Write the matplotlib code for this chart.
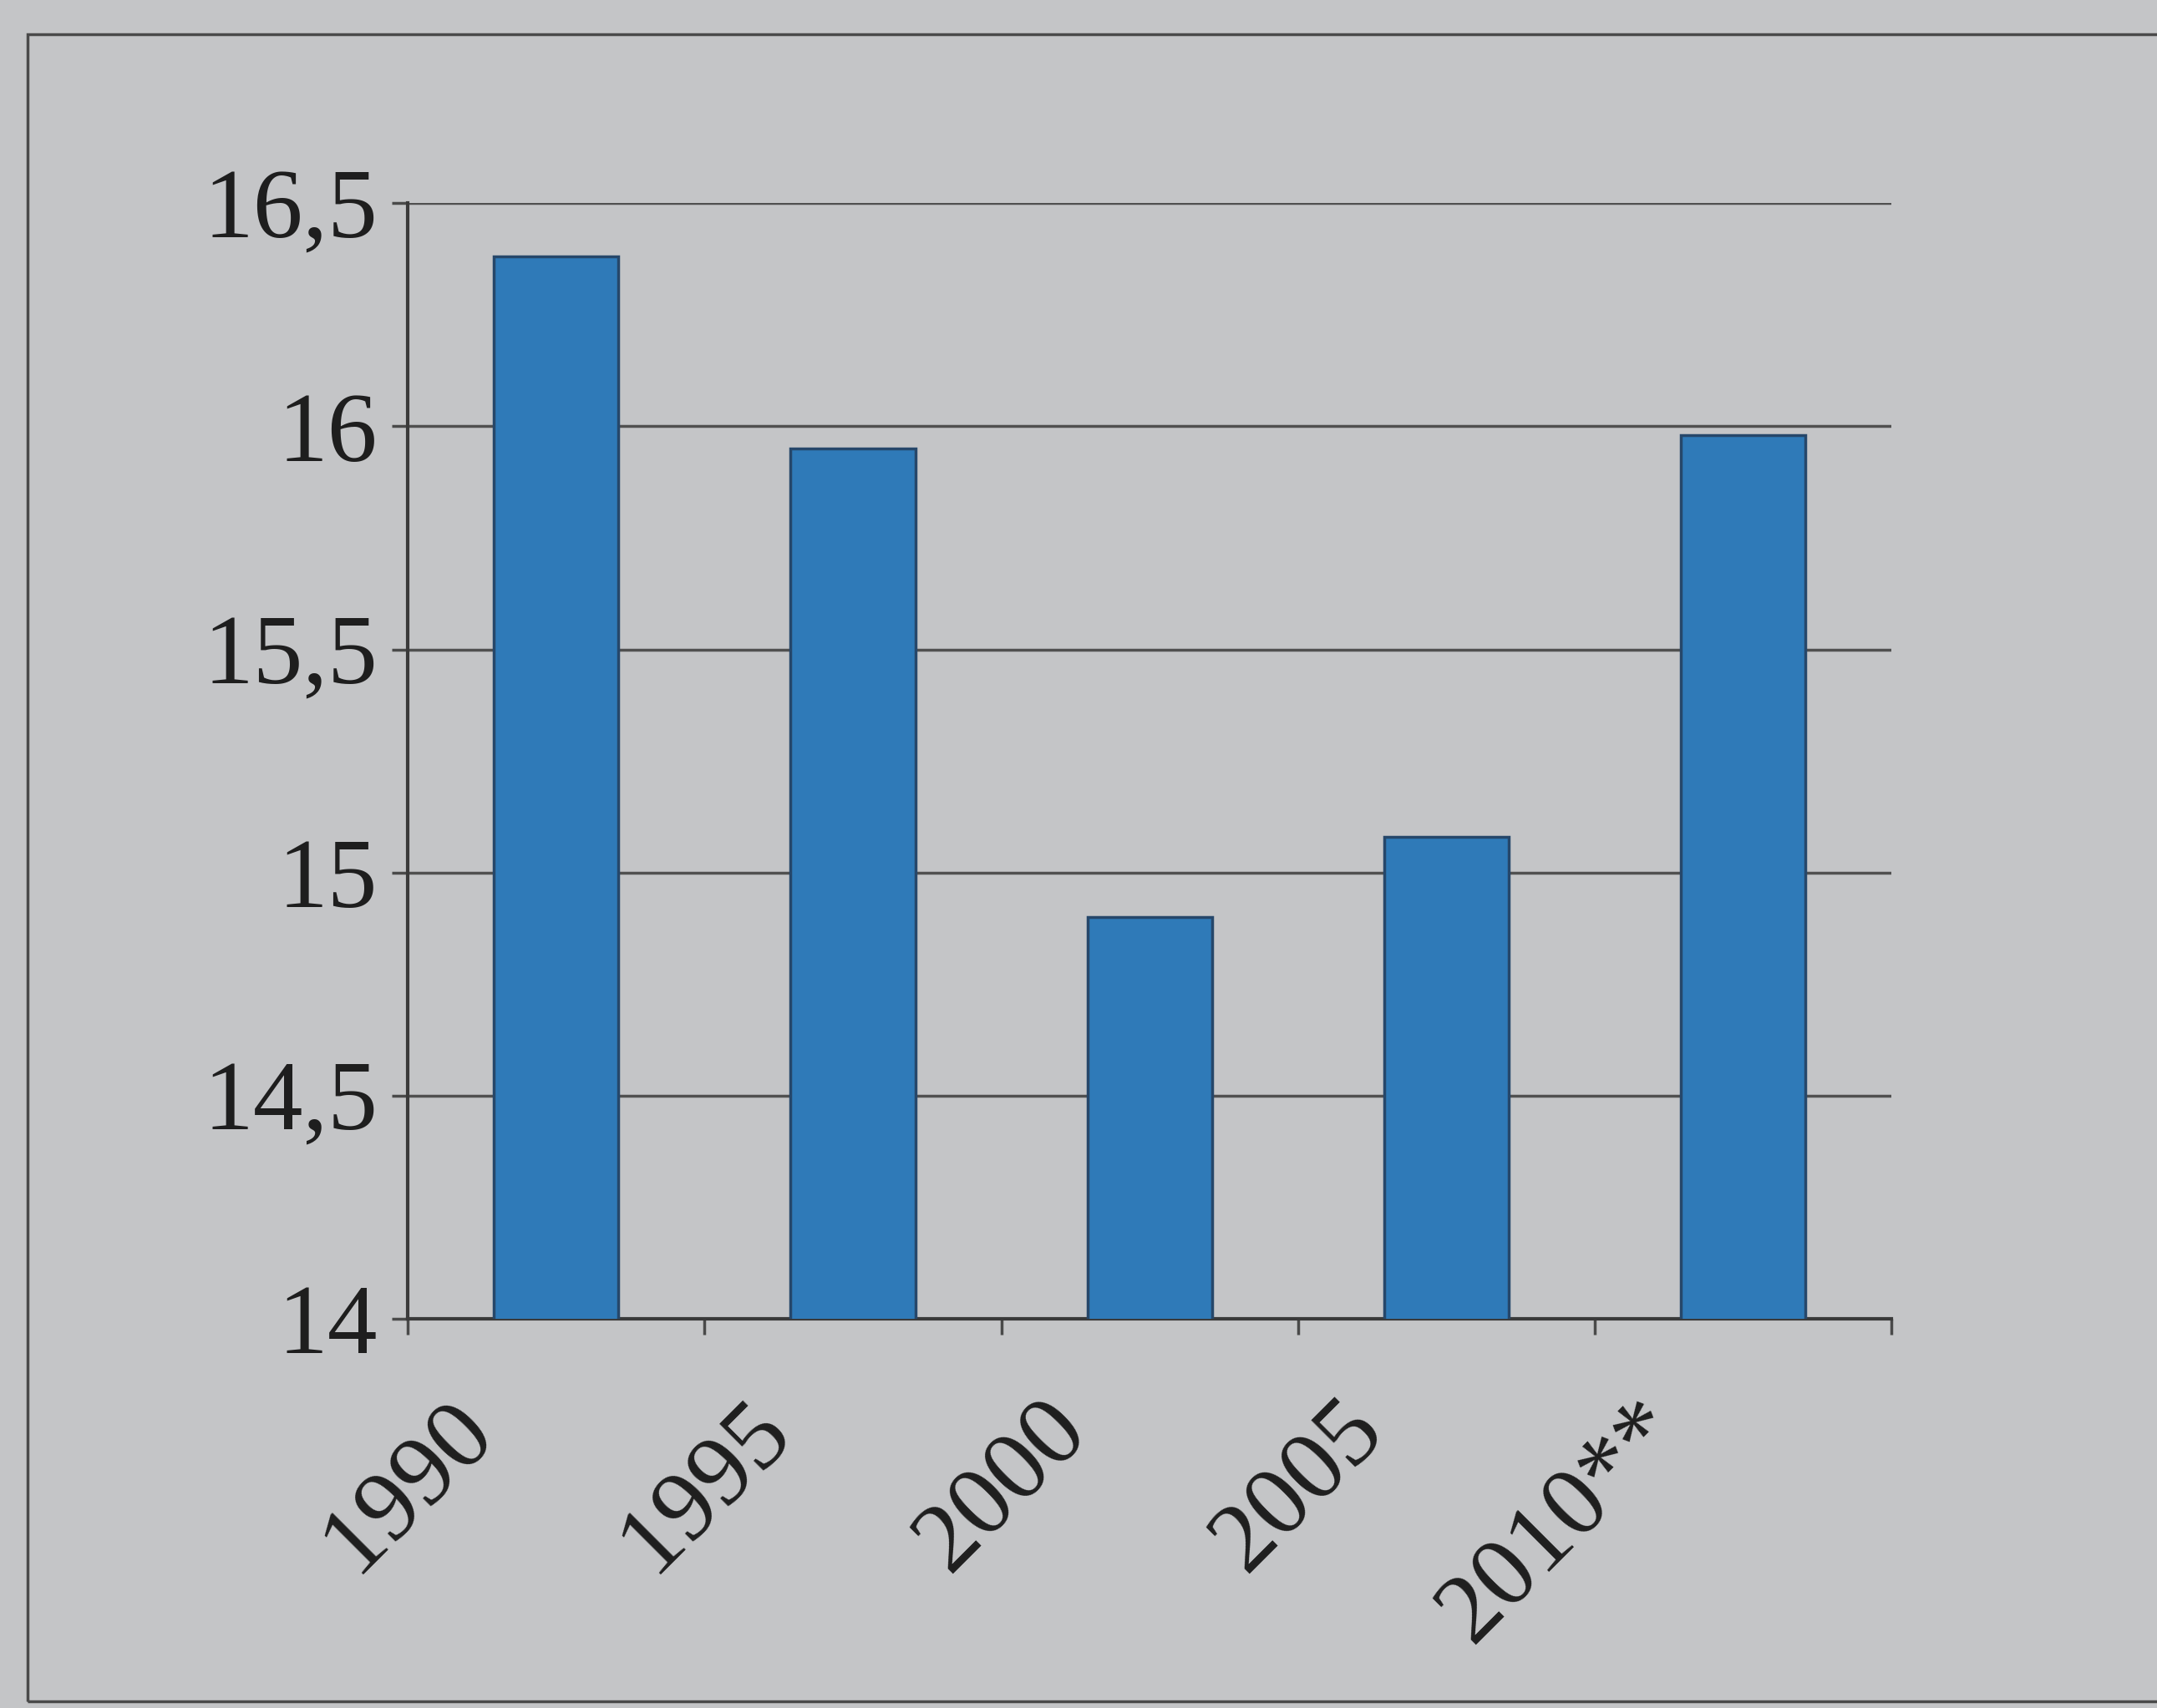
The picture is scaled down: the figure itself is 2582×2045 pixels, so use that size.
import matplotlib
matplotlib.use('Agg')
import matplotlib.pyplot as plt
import matplotlib.transforms as mtransforms
from matplotlib.patches import Rectangle

years = ['1990', '1995', '2000', '2005', '2010**']
values = [16.38, 15.95, 14.9, 15.08, 15.98]
yticks = [14, 14.5, 15, 15.5, 16, 16.5]
ytick_labels = ['14', '14,5', '15', '15,5', '16', '16,5']

bg = '#c4c5c7'
plt.rcParams['font.family'] = ['Liberation Serif', 'DejaVu Serif']

fig = plt.figure(figsize=(25.82, 20.45), dpi=100, facecolor=bg)
ax = fig.add_axes([0.189, 0.228, 0.688, 0.653])
ax.set_facecolor(bg)

# outer frame of the printed figure
fig.patches.append(Rectangle((33/2582, 8/2045), 1.2, 1 - 8/2045 - 41/2045,
                             transform=fig.transFigure, fill=False,
                             edgecolor='#4a4a4a', linewidth=2.5))

x = range(len(years))
ax.bar(x, values, width=0.42, bottom=0, color='#2f7ab8',
       edgecolor='#26476a', linewidth=2.5, zorder=3)

ax.set_ylim(14, 16.5)
ax.set_xlim(-0.5, len(years) - 0.5)
ax.set_yticks(yticks)
ax.set_yticklabels(ytick_labels, fontsize=86, color='#1e1e1e')
ax.yaxis.grid(True, color='#505050', linewidth=2.5, zorder=1)

# ticks between categories, labels rotated under the bars
ax.set_xticks([i - 0.5 for i in range(len(years) + 1)], minor=False)
ax.set_xticklabels([''] * (len(years) + 1))
ax.set_xticks(list(x), minor=True)
ax.set_xticklabels(years, minor=True, fontsize=86, rotation=45,
                   ha='right', va='top', rotation_mode='anchor', color='#1e1e1e')
ax.tick_params(axis='x', which='minor', length=0, pad=10)
ax.tick_params(axis='x', which='major', length=14, width=2.5, color='#4a4a4a', direction='out')
ax.tick_params(axis='y', length=14, width=2.5, color='#4a4a4a', pad=12)
offset = mtransforms.ScaledTranslation(-1.3, -0.65, fig.dpi_scale_trans)
for lbl in ax.get_xticklabels(minor=True):
    lbl.set_transform(lbl.get_transform() + offset)

for side in ['top', 'right']:
    ax.spines[side].set_visible(False)
for side in ['left', 'bottom']:
    ax.spines[side].set_color('#3a3a3a')
    ax.spines[side].set_linewidth(3)

fig.savefig('out.png', dpi=100, facecolor=bg)
